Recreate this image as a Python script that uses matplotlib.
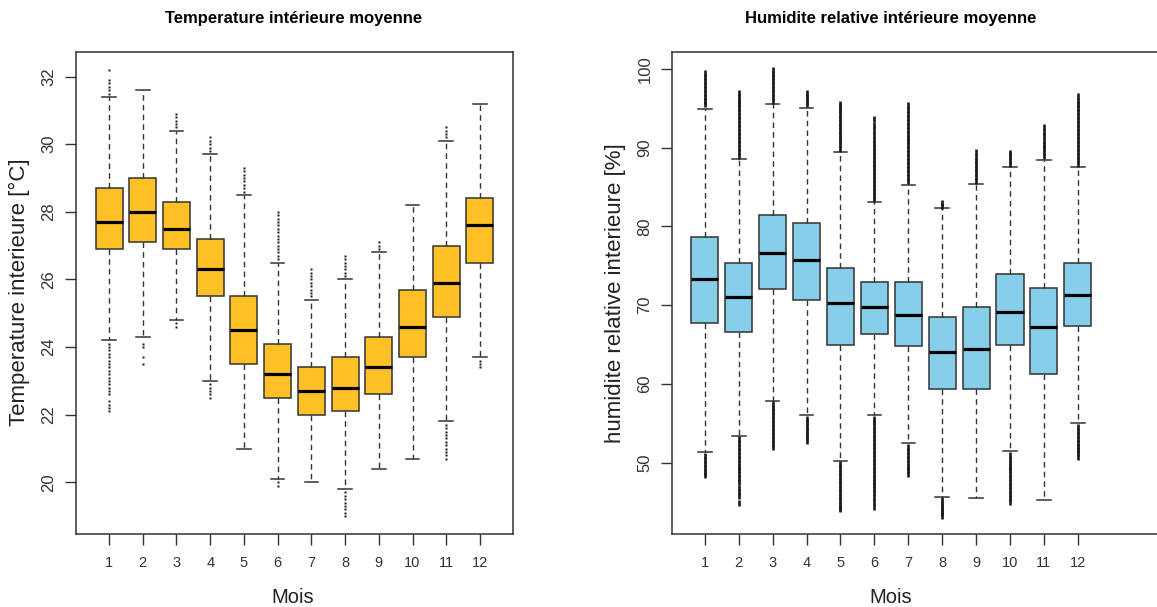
import matplotlib
matplotlib.use('Agg')
import matplotlib.pyplot as plt

plt.rcParams['font.family'] = ['Liberation Sans', 'DejaVu Sans']

mois = [1, 2, 3, 4, 5, 6, 7, 8, 9, 10, 11, 12]

# Temperature interieure (°C)
t_whislo = [24.2, 24.3, 24.8, 23.0, 21.0, 20.1, 20.0, 19.8, 20.4, 20.7, 21.8, 23.7]
t_q1 = [26.9, 27.1, 26.9, 25.5, 23.5, 22.5, 22.0, 22.1, 22.6, 23.7, 24.9, 26.5]
t_med = [27.7, 28.0, 27.5, 26.3, 24.5, 23.2, 22.7, 22.8, 23.4, 24.6, 25.9, 27.6]
t_q3 = [28.7, 29.0, 28.3, 27.2, 25.5, 24.1, 23.4, 23.7, 24.3, 25.7, 27.0, 28.4]
t_whishi = [31.4, 31.6, 30.4, 29.7, 28.5, 26.5, 25.4, 26.0, 26.8, 28.2, 30.1, 31.2]
t_fliers = [
    [31.5, 31.6, 31.7, 31.8, 31.9, 32.2,
     24.1, 24.0, 23.9, 23.8, 23.7, 23.6, 23.5, 23.4, 23.3, 23.2, 23.1, 23.0,
     22.9, 22.8, 22.7, 22.6, 22.4, 22.3, 22.2, 22.1],
    [24.1, 24.0, 23.7, 23.5],
    [30.5, 30.6, 30.7, 30.8, 30.9, 24.7, 24.6],
    [29.8, 29.9, 30.0, 30.1, 30.2, 22.9, 22.8, 22.7, 22.6, 22.5],
    [28.6, 28.7, 28.8, 28.9, 29.0, 29.1, 29.2, 29.3],
    [26.6, 26.7, 26.8, 26.9, 27.0, 27.1, 27.2, 27.3, 27.4, 27.5, 27.6, 27.7,
     27.8, 27.9, 28.0, 20.0, 19.9],
    [25.5, 25.6, 25.7, 25.8, 25.9, 26.0, 26.1, 26.2, 26.3],
    [26.1, 26.2, 26.3, 26.4, 26.5, 26.6, 26.7,
     19.7, 19.6, 19.5, 19.4, 19.3, 19.2, 19.1, 19.0],
    [26.9, 27.0, 27.1],
    [],
    [30.2, 30.3, 30.4, 30.5,
     21.7, 21.6, 21.5, 21.4, 21.3, 21.2, 21.1, 21.0, 20.9, 20.8, 20.7],
    [23.6, 23.5, 23.4],
]

# Humidite relative interieure (%)
h_whislo = [51.3, 53.4, 57.8, 56.1, 50.2, 56.1, 52.5, 45.6, 45.5, 51.5, 45.3, 55.0]
h_q1 = [67.7, 66.6, 72.0, 70.7, 65.0, 66.3, 64.8, 59.4, 59.4, 65.0, 61.3, 67.3]
h_med = [73.3, 71.0, 76.6, 75.7, 70.3, 69.8, 68.8, 64.0, 64.4, 69.1, 67.2, 71.3]
h_q3 = [78.7, 75.4, 81.5, 80.5, 74.7, 73.0, 73.0, 68.5, 69.8, 74.0, 72.2, 75.4]
h_whishi = [94.9, 88.6, 95.6, 95.1, 89.4, 83.1, 85.3, 82.3, 85.4, 87.5, 88.4, 87.6]
h_fliers = [
    [95.5, 96.0, 96.5, 97.0, 97.5, 98.0, 98.5, 99.0, 99.5,
     50.8, 50.3, 49.8, 49.3, 48.8, 48.4],
    [89.0, 89.5, 90.0, 90.5, 91.0, 91.5, 92.0, 92.5, 93.0, 93.5, 94.0, 94.5,
     95.0, 95.5, 96.0, 96.5, 97.0,
     53.0, 52.5, 52.0, 51.5, 51.0, 50.5, 50.0, 49.5, 49.0, 48.5, 48.0, 47.5,
     46.8, 46.3, 45.8, 44.9],
    [96.0, 96.5, 97.0, 97.5, 98.0, 98.5, 99.0, 99.4, 99.9,
     57.4, 57.0, 56.5, 56.0, 55.5, 55.0, 54.5, 54.0, 53.5, 53.0, 52.5, 52.0],
    [95.5, 96.0, 96.5, 97.0, 55.6, 55.1, 54.6, 54.1, 53.6, 53.2, 52.8],
    [89.8, 90.3, 90.8, 91.3, 91.8, 92.3, 92.8, 93.3, 93.8, 94.3, 94.8, 95.2, 95.6,
     49.8, 49.3, 48.8, 48.3, 47.8, 47.3, 46.8, 46.3, 45.8, 45.3, 44.8, 44.4, 44.1],
    [83.5, 84.0, 84.5, 85.0, 85.5, 86.0, 86.5, 87.0, 87.5, 88.0, 88.5, 89.0,
     89.5, 90.0, 90.5, 91.0, 91.6, 92.3, 92.9, 93.6,
     55.6, 55.1, 54.6, 54.1, 53.6, 53.1, 52.6, 52.1, 51.6, 51.1, 50.6, 50.1,
     49.6, 49.1, 48.6, 48.1, 47.6, 47.1, 46.6, 46.1, 45.6, 45.0, 44.4],
    [85.8, 86.3, 86.8, 87.3, 87.8, 88.3, 88.8, 89.3, 89.8, 90.3, 90.8, 91.3,
     91.8, 92.3, 92.8, 93.3, 93.8, 94.3, 94.8, 95.4,
     52.0, 51.5, 51.0, 50.5, 50.0, 49.5, 49.0, 48.6],
    [82.6, 83.0, 45.2, 44.8, 44.4, 44.0, 43.6, 43.2],
    [85.8, 86.3, 86.8, 87.3, 87.8, 88.3, 88.8, 89.4],
    [87.9, 88.4, 88.9, 89.3,
     51.0, 50.5, 50.0, 49.5, 49.0, 48.5, 48.0, 47.5, 47.0, 46.5, 46.0, 45.5, 45.0],
    [88.9, 89.5, 90.0, 90.4, 90.9, 91.5, 92.0, 92.6],
    [88.0, 88.5, 89.0, 89.5, 90.0, 90.5, 91.0, 91.5, 92.0, 92.5, 93.0, 93.5,
     94.0, 94.5, 95.0, 95.5, 96.0, 96.6,
     54.5, 54.0, 53.5, 53.0, 52.5, 52.0, 51.6, 51.2, 50.7],
]

W, H = 1157, 607
DARK = '#333333'


def make_stats(lo, q1, med, q3, hi, fliers):
    stats = []
    for i in range(len(med)):
        stats.append(dict(whislo=lo[i], q1=q1[i], med=med[i], q3=q3[i],
                          whishi=hi[i], fliers=fliers[i]))
    return stats


def draw_box(ax, stats, color, flier_style):
    ax.bxp(stats, positions=mois, widths=0.8, capwidths=0.4,
           patch_artist=True, showfliers=True,
           boxprops=dict(facecolor=color, edgecolor=DARK, linewidth=1.1),
           medianprops=dict(color='black', linewidth=2.3, solid_capstyle='butt'),
           whiskerprops=dict(color=DARK, linewidth=1.0, linestyle=(0, (4, 3))),
           capprops=dict(color=DARK, linewidth=1.1),
           flierprops=flier_style)
    ax.set_xticks(mois)
    ax.set_xticklabels([str(m) for m in mois])
    ax.tick_params(direction='out', length=8, width=1, color=DARK,
                   labelcolor=DARK)
    ax.tick_params(axis='x', pad=8, labelsize=10.5)
    ax.tick_params(axis='y', pad=6, labelrotation=90, labelsize=12)
    for lab in ax.get_yticklabels():
        lab.set_va('center')
    for sp in ax.spines.values():
        sp.set_color(DARK)
        sp.set_linewidth(1.1)


def ylims(stats):
    vals = []
    for s in stats:
        vals += [s['whislo'], s['whishi']] + list(s['fliers'])
    lo, hi = min(vals), max(vals)
    pad = (hi - lo) * 0.04
    return lo - pad, hi + pad


def px_axes(x0, x1, y0, y1):
    return [x0 / W, (H - y1) / H, (x1 - x0) / W, (y1 - y0) / H]


fig = plt.figure(figsize=(W / 100, H / 100), dpi=100)

# left : temperature
ax1 = fig.add_axes(px_axes(76, 513, 52, 534))
st1 = make_stats(t_whislo, t_q1, t_med, t_q3, t_whishi, t_fliers)
draw_box(ax1, st1, '#FFC125',
         dict(marker='s', markersize=1.5, markerfacecolor='#1a1a1a',
              markeredgecolor='none', linestyle='none'))
ax1.set_xlim(0.02, 12.98)
ax1.set_ylim(*ylims(st1))
ax1.set_yticks([20, 22, 24, 26, 28, 30, 32])

# right : humidite (plot frame runs past the image edge)
ax2 = fig.add_axes(px_axes(672, 1170, 52, 534))
st2 = make_stats(h_whislo, h_q1, h_med, h_q3, h_whishi, h_fliers)
draw_box(ax2, st2, '#87CEEB',
         dict(marker='|', markersize=4.2, markeredgewidth=1.9,
              markeredgecolor='#1a1a1a', linestyle='none'))
ax2.set_xlim(0.03, 0.03 + (1170 - 672) / 33.9)
ax2.set_ylim(*ylims(st2))
ax2.set_yticks([50, 60, 70, 80, 90, 100])

# titres et libelles
fig.text(294 / W, (H - 22.7) / H, 'Temperature intérieure moyenne',
         ha='center', va='baseline', fontsize=12, fontweight='bold')
fig.text(891 / W, (H - 22.7) / H, 'Humidite relative intérieure moyenne',
         ha='center', va='baseline', fontsize=12, fontweight='bold')
fig.text(293 / W, (H - 603) / H, 'Mois', ha='center', va='baseline',
         fontsize=14.5, color='#222222')
fig.text(891 / W, (H - 603) / H, 'Mois', ha='center', va='baseline',
         fontsize=14.5, color='#222222')
fig.text(19 / W, (H - 292) / H, 'Temperature interieure [°C]', rotation=90,
         ha='center', va='center', fontsize=16, color='#222222')
fig.text(615 / W, (H - 293) / H, 'humidite relative interieure [%]', rotation=90,
         ha='center', va='center', fontsize=16, color='#222222')

fig.savefig('out.png', dpi=100)
